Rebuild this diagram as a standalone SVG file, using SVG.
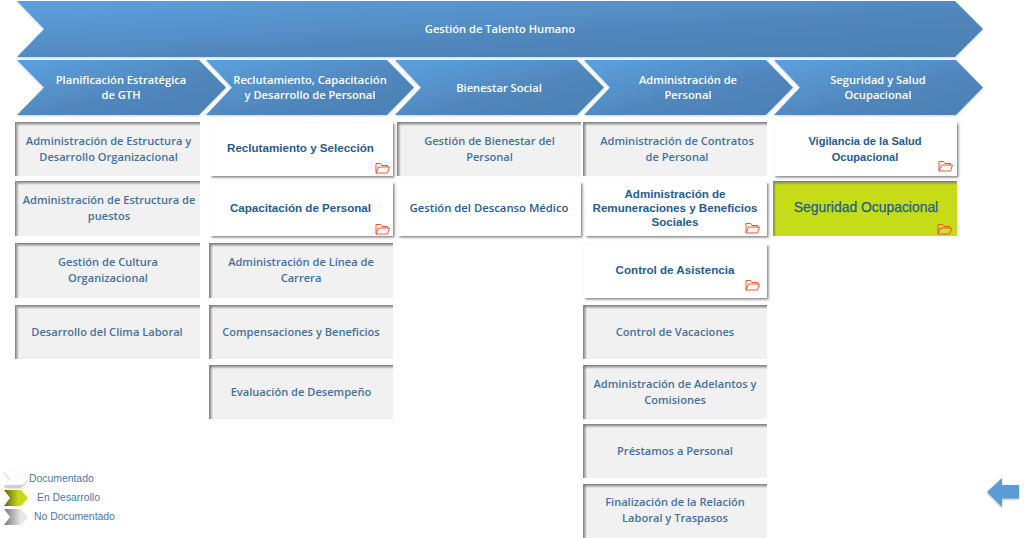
<svg xmlns="http://www.w3.org/2000/svg" xmlns:xlink="http://www.w3.org/1999/xlink" width="1024" height="538" viewBox="0 0 1024 538">
<style>
text{text-anchor:middle}
.h{font:600 11.15px "Open Sans","Noto Sans",sans-serif;fill:#fff}
.g{font:600 11.1px "Open Sans","Noto Sans",sans-serif;fill:#44719f}
.w{font:700 11.6px "Liberation Sans",Arial,sans-serif;fill:#1f5c94}
.v{font-size:11.1px}
.d{font:600 11.3px "Open Sans","Noto Sans",sans-serif;fill:#1f5c94}
.s{font-size:13.9px;font-weight:400;stroke:#1f5c94;stroke-width:.25}
.l{font:10.4px "Liberation Sans",Arial,sans-serif;fill:#4a78ad;text-anchor:start}
.chev{fill:url(#blue);filter:url(#glow)}
.card-g{fill:#f1f1f1}
.card-w{fill:#fff;filter:url(#sh)}
.stop{fill:url(#top)}
.sleft{fill:url(#left)}
</style>
<defs>
<linearGradient id="blue" x1="0" y1="0" x2="1" y2="1"><stop offset="0.1" stop-color="#5b9cd8"/><stop offset="0.6" stop-color="#4f86bb"/><stop offset="1" stop-color="#4d80b3"/></linearGradient>
<linearGradient id="top" x1="0" y1="0" x2="0" y2="1"><stop offset="0" stop-color="#777"/><stop offset="1" stop-color="#777" stop-opacity="0"/></linearGradient>
<linearGradient id="left" x1="0" y1="0" x2="1" y2="0"><stop offset="0" stop-color="#777"/><stop offset="1" stop-color="#777" stop-opacity="0"/></linearGradient>
<linearGradient id="lg-w" x1="0" y1="0" x2="0" y2="1"><stop offset="0" stop-color="#fff"/><stop offset="0.8" stop-color="#fff"/><stop offset="1" stop-color="#bbb"/></linearGradient>
<linearGradient id="lg-o" x1="0" y1="0" x2="1" y2="0"><stop offset="0" stop-color="#5d630c"/><stop offset="0.6" stop-color="#c6d818"/></linearGradient>
<linearGradient id="lg-g" x1="0" y1="0" x2="1" y2="0"><stop offset="0" stop-color="#777"/><stop offset="0.7" stop-color="#e6e6e6"/></linearGradient>
<filter id="glow" x="-5%" y="-10%" width="110%" height="120%"><feDropShadow dx="0" dy="1" stdDeviation="1.2" flood-color="#9cc3e6" flood-opacity=".7"/></filter>
<filter id="sh" x="-5%" y="-10%" width="110%" height="125%"><feDropShadow dx="1.5" dy="1.5" stdDeviation="1" flood-color="#666" flood-opacity=".8"/></filter>
<filter id="ash" x="-20%" y="-20%" width="140%" height="140%"><feDropShadow dx="0" dy="1" stdDeviation="1" flood-color="#888" flood-opacity=".6"/></filter>
<symbol id="folder" viewBox="0 0 15 12" width="15" height="12"><path d="M1 11V1.500H5.500L7 3.500H12.500V5M1 11L3.500 5H14.500L12.500 11Z" fill="#fff" fill-opacity=".15" stroke="#f2532b" stroke-width="1"/></symbol>
</defs>

<g id="connectors"></g>

<g id="n-top"><path class="chev" d="M17 1H955L983 29L955 57H17L44 29Z"/><text class="h" x="500" y="33">Gestión de Talento Humano</text></g>

<g id="h1"><path class="chev" d="M17 60H199L226 87.500L199 115H17L44 87.500Z"/><text class="h" x="121" y="84">Planificación Estratégica</text><text class="h" x="121" y="99">de GTH</text></g>
<g id="h2"><path class="chev" d="M206 60H387L414 87.500L387 115H206L232 87.500Z"/><text class="h" x="310" y="84">Reclutamiento, Capacitación</text><text class="h" x="310" y="99">y Desarrollo de Personal</text></g>
<g id="h3"><path class="chev" d="M395 60H577L604 87.500L577 115H395L421 87.500Z"/><text class="h" x="499" y="92">Bienestar Social</text></g>
<g id="h4"><path class="chev" d="M584 60H766L793 87.500L766 115H584L610 87.500Z"/><text class="h" x="688" y="84">Administración de</text><text class="h" x="688" y="99">Personal</text></g>
<g id="h5"><path class="chev" d="M774 60H956L983 87.500L956 115H774L800 87.500Z"/><text class="h" x="878" y="84">Seguridad y Salud</text><text class="h" x="878" y="99">Ocupacional</text></g>

<g id="c1a"><rect class="card-g" x="17" y="122" width="183" height="54"/><rect class="stop" x="17" y="122" width="183" height="4"/><rect class="sleft" x="15" y="122" width="4" height="54"/><text class="g" x="108.500" y="145">Administración de Estructura y</text><text class="g" x="108.500" y="161">Desarrollo Organizacional</text></g>
<g id="c1b"><rect class="card-g" x="17" y="181" width="183" height="55"/><rect class="stop" x="17" y="181" width="183" height="4"/><rect class="sleft" x="15" y="181" width="4" height="55"/><text class="g" x="109" y="204">Administración de Estructura de</text><text class="g" x="109" y="220">puestos</text></g>
<g id="c1c"><rect class="card-g" x="17" y="243" width="183" height="55"/><rect class="stop" x="17" y="243" width="183" height="4"/><rect class="sleft" x="15" y="243" width="4" height="55"/><text class="g" x="108" y="266">Gestión de Cultura</text><text class="g" x="108" y="282">Organizacional</text></g>
<g id="c1d"><rect class="card-g" x="17" y="305" width="183" height="54"/><rect class="stop" x="17" y="305" width="183" height="4"/><rect class="sleft" x="15" y="305" width="4" height="54"/><text class="g" x="107" y="336">Desarrollo del Clima Laboral</text></g>

<g id="c2a"><rect class="card-w" x="210" y="122" width="183" height="54"/><text class="w" x="300.500" y="152">Reclutamiento y Selección</text><use xlink:href="#folder" href="#folder" x="375" y="162"/></g>
<g id="c2b"><rect class="card-w" x="210" y="182" width="183" height="54"/><text class="w" x="300.500" y="212">Capacitación de Personal</text><use xlink:href="#folder" href="#folder" x="375" y="223"/></g>
<g id="c2c"><rect class="card-g" x="210" y="243" width="183" height="55"/><rect class="stop" x="210" y="243" width="183" height="4"/><rect class="sleft" x="209" y="243" width="4" height="55"/><text class="g" x="301" y="266">Administración de Línea de</text><text class="g" x="301" y="282">Carrera</text></g>
<g id="c2d"><rect class="card-g" x="210" y="305" width="183" height="54"/><rect class="stop" x="210" y="305" width="183" height="4"/><rect class="sleft" x="209" y="305" width="4" height="54"/><text class="g" x="301" y="336">Compensaciones y Beneficios</text></g>
<g id="c2e"><rect class="card-g" x="210" y="365" width="183" height="54"/><rect class="stop" x="210" y="365" width="183" height="4"/><rect class="sleft" x="209" y="365" width="4" height="54"/><text class="g" x="301" y="396">Evaluación de Desempeño</text></g>

<g id="c3a"><rect class="card-g" x="398" y="122" width="183" height="54"/><rect class="stop" x="398" y="122" width="183" height="4"/><rect class="sleft" x="397" y="122" width="4" height="54"/><text class="g" x="489.500" y="145">Gestión de Bienestar del</text><text class="g" x="489.500" y="161">Personal</text></g>
<g id="c3b"><rect class="card-w" x="398" y="182" width="183" height="54"/><text class="d" x="489" y="212">Gestión del Descanso Médico</text></g>

<g id="c4a"><rect class="card-g" x="584" y="122" width="183" height="54"/><rect class="stop" x="584" y="122" width="183" height="4"/><rect class="sleft" x="583" y="122" width="4" height="54"/><text class="g" x="677" y="145">Administración de Contratos</text><text class="g" x="677" y="161">de Personal</text></g>
<g id="c4b"><rect class="card-w" x="585" y="182" width="182" height="54"/><text class="w" x="675" y="198">Administración de</text><text class="w" x="675" y="212">Remuneraciones y Beneficios</text><text class="w" x="675" y="226">Sociales</text><use xlink:href="#folder" href="#folder" x="745" y="222"/></g>
<g id="c4c"><rect class="card-w" x="584" y="244" width="183" height="54"/><text class="w" x="675" y="274">Control de Asistencia</text><use xlink:href="#folder" href="#folder" x="745" y="279"/></g>
<g id="c4d"><rect class="card-g" x="584" y="305" width="183" height="54"/><rect class="stop" x="584" y="305" width="183" height="4"/><rect class="sleft" x="583" y="305" width="4" height="54"/><text class="g" x="675" y="336">Control de Vacaciones</text></g>
<g id="c4e"><rect class="card-g" x="584" y="365" width="183" height="54"/><rect class="stop" x="584" y="365" width="183" height="4"/><rect class="sleft" x="583" y="365" width="4" height="54"/><text class="g" x="675" y="388">Administración de Adelantos y</text><text class="g" x="675" y="404">Comisiones</text></g>
<g id="c4f"><rect class="card-g" x="584" y="424" width="183" height="54"/><rect class="stop" x="584" y="424" width="183" height="4"/><rect class="sleft" x="583" y="424" width="4" height="54"/><text class="g" x="675" y="455">Préstamos a Personal</text></g>
<g id="c4g"><rect class="card-g" x="584" y="484" width="183" height="54"/><rect class="stop" x="584" y="484" width="183" height="4"/><rect class="sleft" x="583" y="484" width="4" height="54"/><text class="g" x="675" y="506">Finalización de la Relación</text><text class="g" x="675" y="522">Laboral y Traspasos</text></g>

<g id="c5a"><rect class="card-w" x="774" y="122" width="183" height="54"/><text class="w v" x="865" y="145">Vigilancia de la Salud</text><text class="w v" x="865" y="161">Ocupacional</text><use xlink:href="#folder" href="#folder" x="938" y="160"/></g>
<g id="c5b"><rect x="774" y="181" width="183" height="55" fill="#c6dc19"/><rect class="stop" x="774" y="181" width="183" height="4"/><rect class="sleft" x="773" y="181" width="3" height="55"/><text class="w s" x="866" y="212">Seguridad Ocupacional</text><use xlink:href="#folder" href="#folder" x="937" y="223"/></g>

<g id="legend">
<g id="lg1"><path d="M4 471H21L28 479L21 487H4L10 479Z" fill="url(#lg-w)" filter="url(#ash)"/><text class="l" x="29" y="482">Documentado</text></g>
<g id="lg2"><path d="M4 490H21L28 498L21 506H4L10 498Z" fill="url(#lg-o)"/><text class="l" x="37" y="501">En Desarrollo</text></g>
<g id="lg3"><path d="M4 509H21L28 517L21 525H4L10 517Z" fill="url(#lg-g)"/><text class="l" x="34" y="520">No Documentado</text></g>
</g>

<g id="back"><path d="M987 492L1002 478V485H1019V498.500H1002V507Z" fill="#5b9bd5" filter="url(#ash)"/></g>
</svg>
